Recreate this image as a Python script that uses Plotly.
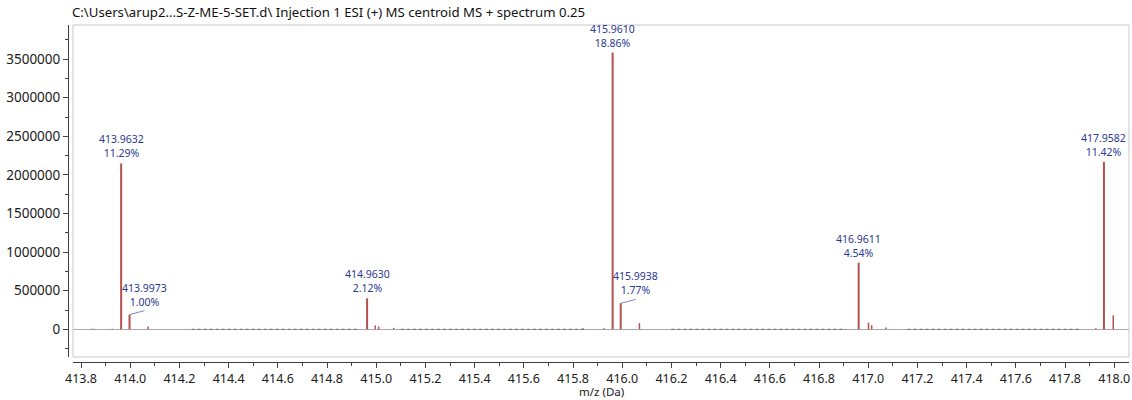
import plotly.graph_objects as go

# Labelled centroid peaks: m/z, intensity (counts) and relative abundance (%)
peak_mz = [413.9632, 413.9973, 414.9630, 415.9610, 415.9938, 416.9611, 417.9582]
peak_int = [2148000, 190000, 402000, 3585000, 336000, 862000, 2170000]
peak_pct = [11.29, 1.00, 2.12, 18.86, 1.77, 4.54, 11.42]
# peaks whose label sits to the right on a short leader line
leader = [False, True, False, False, True, False, False]

# Minor unlabelled centroids
minor_mz = [413.843, 413.854, 413.927, 414.073, 414.996, 415.010, 415.071,
            415.842, 415.927, 416.070, 417.001, 417.014, 417.072, 417.925, 417.996]
minor_int = [9000, 7000, 8000, 35000, 50000, 35000, 18000,
             12000, 14000, 80000, 85000, 52000, 22000, 12000, 180000]

# Baseline noise regions (m/z start, m/z end)
noise_start = [414.25, 415.10, 416.20, 417.16]
noise_end = [414.93, 415.85, 416.91, 417.86]

title_text = "C:\\Users\\arup2...S-Z-ME-5-SET.d\\ Injection 1 ESI (+) MS centroid MS + spectrum 0.25"
x_title = "m/z (Da)"

PEAK_COLOR = "#b5504d"
LABEL_COLOR = "#2b3990"
FONT = "Noto Sans"


def sticks(mz, inten):
    xs, ys = [], []
    for m, h in zip(mz, inten):
        xs += [m, m, None]
        ys += [0, h, None]
    return xs, ys


fig = go.Figure()

nx, ny = [], []
for a, b in zip(noise_start, noise_end):
    nx += [a, b, None]
    ny += [0, 0, None]
fig.add_trace(go.Scatter(x=nx, y=ny, mode="lines", hoverinfo="skip",
                         line=dict(color="#7a5a5a", width=1, dash="dot")))

mx, my = sticks(minor_mz, minor_int)
fig.add_trace(go.Scatter(x=mx, y=my, mode="lines", hoverinfo="skip",
                         line=dict(color=PEAK_COLOR, width=1.5)))

px, py = sticks(peak_mz, peak_int)
fig.add_trace(go.Scatter(x=px, y=py, mode="lines",
                         line=dict(color=PEAK_COLOR, width=2)))

for m, h, p, side in zip(peak_mz, peak_int, peak_pct, leader):
    txt = f"{m:.4f}<br>{p:.2f}%"
    if side:
        fig.add_annotation(x=m, y=h, text=txt, showarrow=True, arrowhead=0,
                           arrowwidth=0.8, arrowcolor="#5a68a8", ax=15, ay=-4,
                           xanchor="center", yanchor="bottom",
                           font=dict(family=FONT, size=10.5, color=LABEL_COLOR))
    else:
        fig.add_annotation(x=m, y=h, text=txt, showarrow=False,
                           xanchor="center", yanchor="bottom", yshift=1,
                           font=dict(family=FONT, size=10.5, color=LABEL_COLOR))

# x-axis title sits at the very bottom, under the tick labels
fig.add_annotation(xref="x domain", yref="paper", x=0.5, y=-37.5 / 337,
                   text=x_title, showarrow=False, xanchor="center", yanchor="bottom",
                   borderpad=0, font=dict(family=FONT, size=11.5, color="#202020"))

# light frame around the plotting region
fig.add_shape(type="rect", xref="x domain", yref="y domain", x0=0, x1=1, y0=0, y1=1,
              line=dict(color="#c8c8c8", width=1))

fig.update_layout(
    width=1132, height=400,
    margin=dict(l=68, r=3, t=25, b=38),
    paper_bgcolor="white", plot_bgcolor="white",
    showlegend=False,
    font=dict(family=FONT, size=13, color="#202020"),
    title=dict(text=title_text, x=72 / 1132, xanchor="left", y=1 - 12 / 400,
               yanchor="middle", font=dict(family=FONT, size=13.2, color="#111111")),
    xaxis=dict(
        domain=[5 / 1061, 1], anchor="free", position=0,
        range=[413.7675, 418.060], dtick=0.2, tick0=413.8, tickformat=".1f",
        showgrid=False, zeroline=False, showline=True, linecolor="#404040",
        ticks="outside", ticklen=5, tickcolor="#404040",
        minor=dict(dtick=0.1, ticks="outside", ticklen=3, tickcolor="#404040"),
        tickfont=dict(size=12.5),
    ),
    yaxis=dict(
        domain=[5 / 337, 1], anchor="free", position=0,
        range=[-358800, 3941700], dtick=500000, tick0=0, tickformat="d",
        showgrid=False, zeroline=True, zerolinecolor="#a8a8a8", zerolinewidth=1,
        showline=True, linecolor="#404040",
        ticks="outside", ticklen=5, tickcolor="#404040",
        minor=dict(dtick=250000, ticks="outside", ticklen=3, tickcolor="#404040"),
        tickfont=dict(size=13.5),
    ),
)

fig.write_html("out.html")
